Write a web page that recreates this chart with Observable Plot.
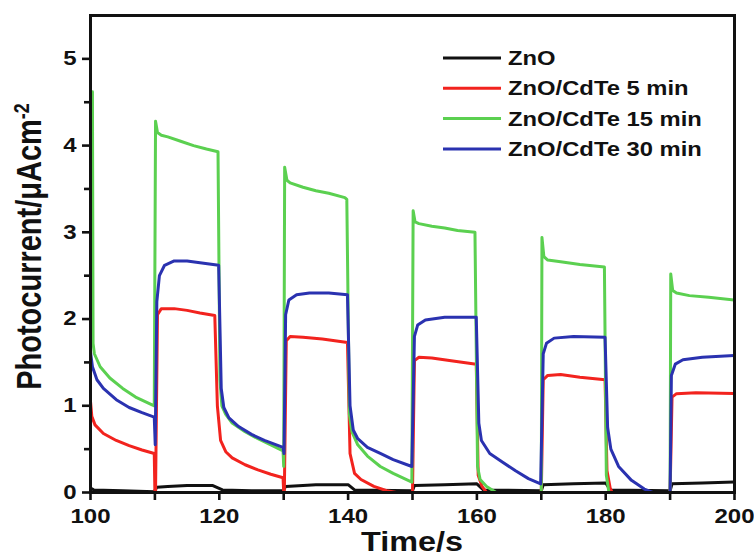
<!DOCTYPE html>
<html><head><meta charset="utf-8">
<script src="https://cdn.jsdelivr.net/npm/d3@7"></script>
<script src="https://cdn.jsdelivr.net/npm/@observablehq/plot@0.6"></script>
<style>body{margin:0;background:#fff;} #chart{width:754px;height:557px;}</style>
</head><body><div id="chart"></div>
<script>
// ---- data ----
const seriesNames = ["ZnO", "ZnO/CdTe 5 min", "ZnO/CdTe 15 min", "ZnO/CdTe 30 min"];
const seriesColors = ["#111111", "#f2231e", "#5bd050", "#2a32b0"];

const znoT = [100,100.5,105,109.9,110.3,112,115,119,120.5,125,129.9,130.3,135,140,141,150,150.3,155,160,161,170,170.3,175,180,180.7,190,190.3,195,200];
const znoV = [0.05,0.03,0.02,0.01,0.06,0.07,0.08,0.08,0.03,0.02,0.02,0.07,0.09,0.09,0.03,0.02,0.08,0.09,0.10,0.03,0.02,0.09,0.10,0.11,0.03,0.02,0.10,0.11,0.12];

const cdte5T = [100,100.2,100.7,102,104,106,108,109.9,110.0,110.1,110.4,111,113,115,117,119.3,119.7,120.2,121,122,124,126,128,129.9,130.0,130.1,130.4,131,133,136,139.9,140.3,141,142,144,146,147.5,150,150.3,151,153,156,159.9,160.2,160.8,161.5,170,170.3,171,173,176,179.9,180.2,180.7,181,190,190.3,191,194,200];
const cdte5V = [1.05,0.88,0.78,0.68,0.60,0.54,0.49,0.45,0.0,0.0,2.05,2.12,2.12,2.10,2.07,2.04,1.0,0.60,0.47,0.40,0.32,0.26,0.21,0.17,0.0,0.0,1.75,1.80,1.79,1.77,1.73,0.45,0.22,0.15,0.07,0.02,0.0,0.0,1.52,1.56,1.55,1.52,1.48,0.20,0.07,0.0,0.0,1.30,1.35,1.36,1.33,1.30,0.25,0.05,0.0,0.0,1.10,1.14,1.15,1.14];

const cdte15T = [100.3,100.4,100.6,101.5,103,105,107,109.9,110.1,110.4,111,112,114,116,118,119.8,120.1,120.4,121,122,124,126,128,129.9,130.0,130.15,130.5,131,133,135,137,139.5,139.8,140.2,140.6,141.5,143,145,147,149.9,150.1,150.4,151,153,155,157,159.7,160.1,160.5,161.5,163,170,170.1,170.4,171,173,176,179.8,180.1,180.5,190,190.1,190.4,191,193,196,200];
const cdte15V = [4.62,1.72,1.60,1.45,1.32,1.20,1.10,1.00,4.28,4.15,4.12,4.10,4.05,4.00,3.96,3.93,1.30,1.00,0.90,0.80,0.70,0.62,0.55,0.48,0.30,3.75,3.60,3.57,3.52,3.48,3.45,3.40,3.38,0.90,0.70,0.55,0.42,0.30,0.22,0.12,3.25,3.12,3.10,3.07,3.05,3.02,3.00,0.30,0.15,0.07,0.0,0.0,2.94,2.72,2.68,2.66,2.63,2.60,0.20,0.0,0.0,2.52,2.33,2.30,2.27,2.25,2.22];

const cdte30T = [100,100.3,101,102,104,106,108,109.9,110.05,110.3,110.7,111.5,113,115,117,119.9,120.3,120.7,121.5,123,125,127,129.9,130.05,130.3,130.8,132,134,137,139.9,140.3,140.8,141.5,143,145,147,149.9,150.3,150.8,152,155,159.9,160.3,160.7,162,164,166,168,169.9,170.3,170.8,172,175,179.9,180.3,180.8,182,184,186,187.3,190,190.2,190.8,192,195,200];
const cdte30V = [1.62,1.45,1.30,1.20,1.07,0.98,0.92,0.87,0.55,2.20,2.50,2.62,2.67,2.67,2.65,2.62,1.20,0.98,0.86,0.76,0.67,0.60,0.52,0.45,2.05,2.22,2.28,2.30,2.30,2.28,1.00,0.72,0.62,0.52,0.45,0.38,0.30,1.80,1.93,1.99,2.02,2.02,0.80,0.60,0.45,0.35,0.25,0.16,0.10,1.60,1.72,1.78,1.80,1.79,0.75,0.50,0.30,0.14,0.04,0.0,0.0,1.35,1.48,1.53,1.56,1.58];

const xTicks = [100, 120, 140, 160, 180, 200];
const xMinorTicks = [110, 130, 150, 170, 190];
const yTicks = [0, 1, 2, 3, 4, 5];
const yMinorTicks = [0.5, 1.5, 2.5, 3.5, 4.5];
const xTitle = "Time/s";
const yTitle = "Photocurrent/μAcm";
const yTitleSup = "-2";

// ---- build tables ----
const toRows = (name, T, V) => T.map((t, i) => ({series: name, t, v: V[i]}));
const tables = [
  toRows(seriesNames[0], znoT, znoV),
  toRows(seriesNames[1], cdte5T, cdte5V),
  toRows(seriesNames[2], cdte15T, cdte15V),
  toRows(seriesNames[3], cdte30T, cdte30V)
];

const FONT = "'Liberation Sans', Arial, Helvetica, sans-serif";
const STRETCH = 1.2;
const W = 754, H = 557, ML = 90, MR = 20, MT = 15, MB = 65;
const innerW = W - ML - MR, innerH = H - MT - MB;

const chart = Plot.plot({
  width: W, height: H,
  marginLeft: ML, marginRight: MR, marginTop: MT, marginBottom: MB,
  x: {domain: [100, 200]},
  y: {domain: [0, 5.5]},
  color: {domain: seriesNames, range: seriesColors},
  style: {fontFamily: FONT, fontWeight: "bold", fontSize: "20px", color: "#111", background: "#fff"},
  marks: [
    Plot.axisX({ticks: xTicks, tickSize: 0, tickPadding: 16, label: null, fontSize: 20, fontWeight: "bold"}),
    Plot.axisY({ticks: yTicks, tickSize: 0, tickPadding: 14, tickFormat: d3.format("d"), label: null, fontSize: 20, fontWeight: "bold"}),
    ...tables.map(rows => Plot.line(rows, {x: "t", y: "v", stroke: "series", strokeWidth: 3, clip: true})),
    Plot.frame({stroke: "#111", strokeWidth: 3}),
    // outward ticks: tick marks through the scales, insets push them outside the frame
    Plot.tickX([...xTicks, ...xMinorTicks], {x: d => d, stroke: "#111", strokeWidth: 2.6, insetTop: innerH, insetBottom: -8}),
    Plot.tickY(yTicks, {y: d => d, stroke: "#111", strokeWidth: 2.6, insetLeft: -8, insetRight: innerW}),
    Plot.tickY(yMinorTicks, {y: d => d, stroke: "#111", strokeWidth: 2.6, insetLeft: -6, insetRight: innerW})
  ]
});
document.getElementById("chart").appendChild(chart);

// stretch tick labels horizontally like the reference typeface
chart.querySelectorAll('g[aria-label$="tick label"] text').forEach(t => {
  const tr = t.getAttribute("transform");
  if (tr) t.setAttribute("transform", tr + ` scale(${STRETCH},1)`);
});

const svg = d3.select(chart);
const xs = chart.scale("x"), ys = chart.scale("y");
const x0 = xs.range[0], x1 = xs.range[1];
const yb = ys.range[0], yt = ys.range[1];

// axis titles
svg.append("text")
  .attr("transform", `translate(${(x0 + x1) / 2},${yb + 59}) scale(${STRETCH},1)`)
  .attr("text-anchor", "middle")
  .style("font-family", FONT).style("font-weight", "bold").style("font-size", "27px").attr("fill", "#111")
  .text(xTitle);

const ytl = svg.append("text")
  .attr("transform", `translate(${x0 - 49},${(yb + yt) / 2 - 7}) rotate(-90) scale(1,${STRETCH})`)
  .attr("text-anchor", "middle")
  .style("font-family", FONT).style("font-weight", "bold").style("font-size", "29px").attr("fill", "#111");
ytl.append("tspan").text(yTitle);
ytl.append("tspan").attr("dy", "-0.55em").style("font-size", "18px").text(yTitleSup);

// legend
const lg = svg.append("g").attr("aria-label", "legend");
seriesNames.forEach((name, i) => {
  const ry = yt + 43 + i * 30.3;
  lg.append("line").attr("x1", x0 + 353).attr("x2", x0 + 411).attr("y1", ry).attr("y2", ry)
    .attr("stroke", seriesColors[i]).attr("stroke-width", 3);
  lg.append("text")
    .attr("transform", `translate(${x0 + 418},${ry}) scale(1.22,1)`)
    .attr("dy", "0.36em")
    .attr("text-anchor", "start")
    .style("font-family", FONT).style("font-weight", "bold").style("font-size", "19.5px").attr("fill", "#111")
    .text(name);
});
</script>
</body></html>
